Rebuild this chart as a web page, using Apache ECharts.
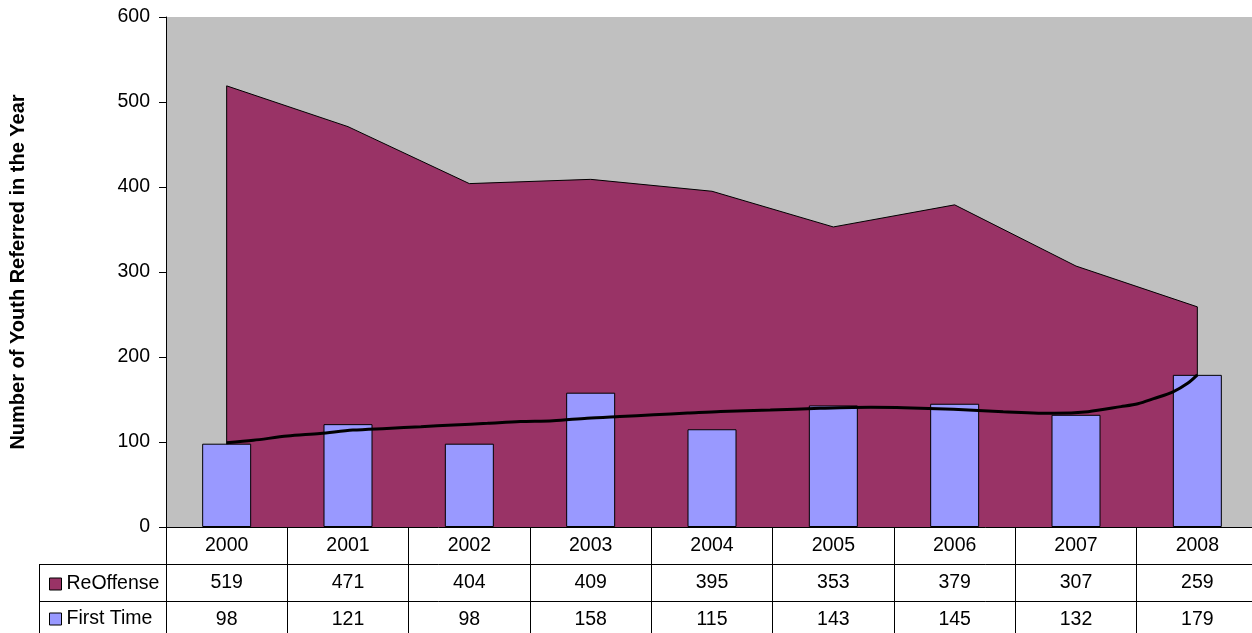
<!DOCTYPE html>
<html>
<head>
<meta charset="utf-8">
<script src="https://cdn.jsdelivr.net/npm/echarts@6/dist/echarts.min.js"></script>
<style>
html,body{margin:0;padding:0;background:#fff;overflow:hidden;}
#c{width:1258px;height:633px;}
</style>
</head>
<body>
<div id="c"></div>
<script>
// ---- data ----
var years = ['2000','2001','2002','2003','2004','2005','2006','2007','2008'];
var reOffense = [519, 471, 404, 409, 395, 353, 379, 307, 259];
var firstTime = [98, 121, 98, 158, 115, 143, 145, 132, 179];
// trend line (position in category units, value)
var trendX = [0, 0.22, 0.50, 0.77, 1.04, 1.32, 1.60, 1.87, 2.15, 2.42, 2.69, 2.97, 3.24, 3.52, 3.80, 4.07, 4.48, 4.89, 5.31, 5.58, 5.99, 6.40, 6.82, 7.10, 7.37, 7.51, 7.64, 7.80, 7.92, 8.0];
var trendY = [99, 102, 107, 110, 114, 116, 118, 120, 122, 124, 125, 128, 130, 132, 134, 136, 137.6, 139.6, 140.8, 140.4, 138.4, 135.7, 133.7, 135.7, 141.6, 145, 151, 159, 169, 179];
var yTicks = {min: 0, max: 600, interval: 100};
var seriesNames = ['ReOffense', 'First Time'];
var yTitle = 'Number of Youth Referred in the Year';

var FONT = '"Liberation Sans", Arial, sans-serif';
var AREA_COLOR = '#993366', BAR_COLOR = '#9999FF';

var areaData = [[0, 0]].concat(reOffense.map(function(v, i){ return [i, v]; })).concat([[reOffense.length - 1, 0]]);
var trendData = trendX.map(function(x, i){ return [x, trendY[i]]; });

var chart = echarts.init(document.getElementById('c'), null, {renderer: 'canvas'});

function tableAxis(offset, tickLen, fmt) {
  return {
    type: 'category', gridIndex: 0, position: 'bottom', offset: offset,
    data: years, boundaryGap: true,
    axisLine: {show: true, onZero: false, lineStyle: {color: '#000', width: 1}},
    axisTick: {show: true, interval: 0, length: tickLen, lineStyle: {color: '#000', width: 1}},
    axisLabel: {show: true, interval: 0, margin: 9, color: '#000', fontSize: 19.5, fontFamily: FONT, formatter: fmt},
    splitLine: {show: false}
  };
}

function legendFor(idx, color, top) {
  return {
    show: true, orient: 'vertical', left: 44, top: top,
    itemWidth: 12, itemHeight: 12, selectedMode: false,
    textStyle: {color: '#000', fontSize: 19.5, fontFamily: FONT, lineHeight: 20},
    data: [{name: seriesNames[idx], icon: 'rect', itemStyle: {color: color, borderColor: '#000', borderWidth: 1}}]
  };
}

var option = {
  animation: false,
  backgroundColor: '#fff',
  grid: {left: 166, top: 17, right: 0, bottom: 106, show: true, backgroundColor: '#C0C0C0', borderWidth: 0},
  legend: [legendFor(0, AREA_COLOR, 569), legendFor(1, BAR_COLOR, 604)],
  xAxis: [
    tableAxis(0, 37, function(v){ return v; }),
    tableAxis(37, 37, function(v, i){ return String(reOffense[i]); }),
    tableAxis(74, 40, function(v, i){ return String(firstTime[i]); }),
    {type: 'value', gridIndex: 0, show: false, min: -0.5, max: years.length - 0.5}
  ],
  yAxis: {
    type: 'value', min: yTicks.min, max: yTicks.max, interval: yTicks.interval,
    axisLine: {show: true, onZero: false, lineStyle: {color: '#000', width: 1}},
    axisTick: {show: true, length: 7, lineStyle: {color: '#000'}},
    axisLabel: {color: '#000', fontSize: 19.5, fontFamily: FONT, margin: 16},
    splitLine: {show: false},
    name: yTitle, nameLocation: 'middle', nameGap: 138,
    nameTextStyle: {color: '#000', fontSize: 20, fontWeight: 'bold', fontFamily: FONT}
  },
  graphic: [
    {type: 'line', shape: {x1: 39, y1: 564.5, x2: 166, y2: 564.5}, style: {stroke: '#000', lineWidth: 1}},
    {type: 'line', shape: {x1: 39, y1: 601.5, x2: 166, y2: 601.5}, style: {stroke: '#000', lineWidth: 1}},
    {type: 'line', shape: {x1: 39.5, y1: 564, x2: 39.5, y2: 633}, style: {stroke: '#000', lineWidth: 1}}
  ],
  series: [
    {
      name: seriesNames[0], type: 'line', xAxisIndex: 3, yAxisIndex: 0,
      data: areaData, symbol: 'none', z: 1,
      lineStyle: {color: '#000', width: 1},
      itemStyle: {color: AREA_COLOR},
      areaStyle: {color: AREA_COLOR, opacity: 1}
    },
    {
      name: seriesNames[1], type: 'bar', xAxisIndex: 0, yAxisIndex: 0,
      data: firstTime, barWidth: 49, z: 2,
      itemStyle: {color: BAR_COLOR, borderColor: '#000', borderWidth: 1}
    },
    {
      name: 'Trend', type: 'line', xAxisIndex: 3, yAxisIndex: 0,
      data: trendData, symbol: 'none', smooth: 0.3, z: 3,
      lineStyle: {color: '#000', width: 3}
    }
  ]
};
chart.setOption(option);
</script>
</body>
</html>
